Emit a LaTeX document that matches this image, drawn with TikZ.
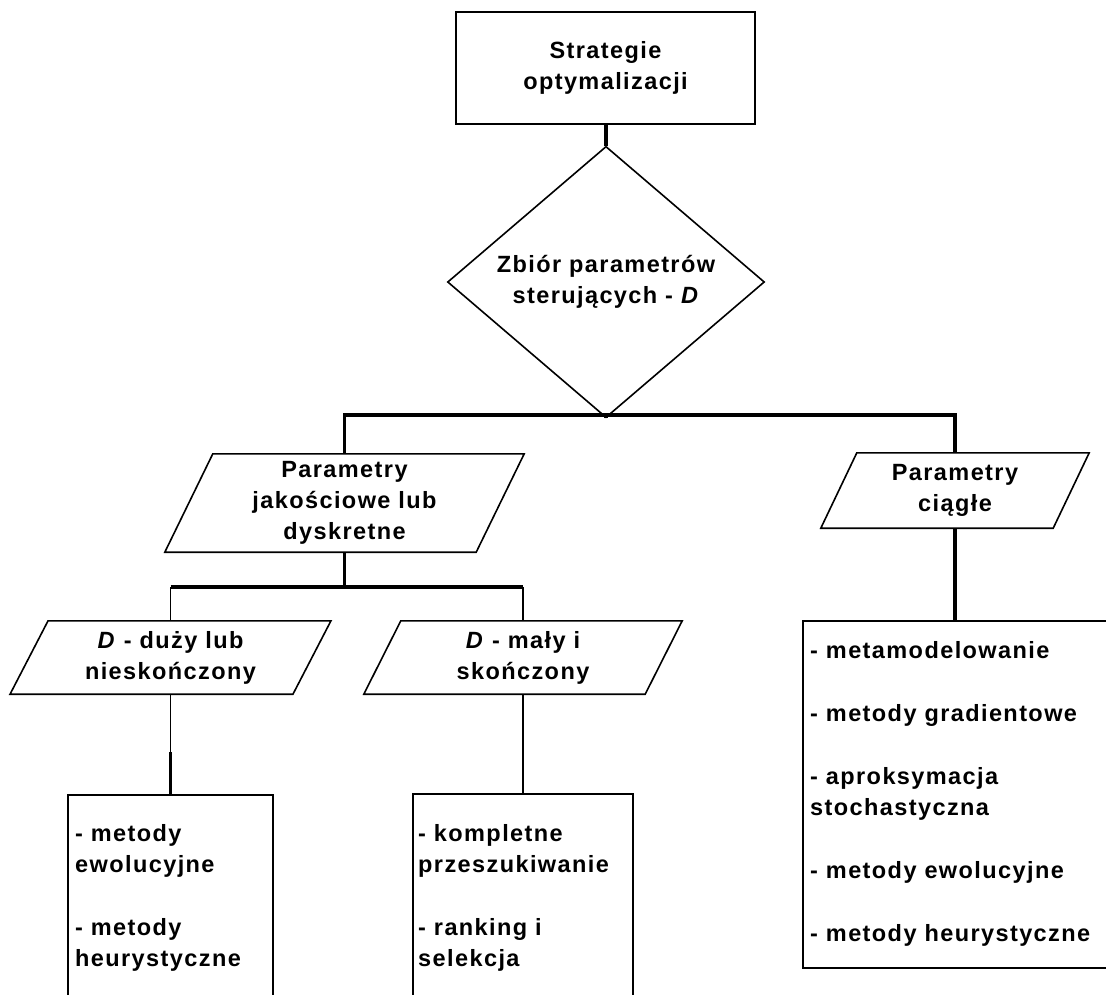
\documentclass[tikz,border=0pt]{standalone}
\usepackage{fontspec}
\usetikzlibrary{shapes.geometric,calc}
\newfontfamily\chartfont{Liberation Sans}[LetterSpace=6]

\tikzset{
  txt/.style={font=\chartfont\bfseries\fontsize{23.5}{31}\selectfont},
  outline/.style={draw=black, line width=1.6pt},
  heavy/.style={draw=black, line width=3.4pt},
  light/.style={draw=black, line width=1.6pt},
  rectbox/.style={outline, rectangle, inner sep=0pt},
  paraframe/.style={rectangle, inner sep=0pt, txt, align=center},
  listtext/.style={txt, align=left, anchor=north west, inner sep=0pt},
}

% parallelogram around a rectangular node: #1 node, #2 half of the horizontal slant
\newcommand\slantframe[2]{%
  \draw[outline] ($(#1.north west)+(#2,0)$) -- ($(#1.north east)+(#2,0)$)
    -- ($(#1.south east)-(#2,0)$) -- ($(#1.south west)-(#2,0)$) -- cycle;}

\begin{document}
\begin{tikzpicture}[x=1pt,y=-1pt]
\useasboundingbox (0,0) rectangle (1106,994);
\clip (0,0) rectangle (1106,994);
\fill[white] (0,0) rectangle (1106,994);

% root and decision
\node[rectbox, txt, align=center, minimum width=299pt, minimum height=112pt]
  (root) at (605.5,68) {Strategie\\optymalizacji};
\node[outline, diamond, inner sep=0pt, minimum width=317pt, minimum height=216pt,
  txt, align=center] (dec) at (606,282) {Zbiór parametrów\\sterujących - \textit{D}};

% first level of parameter kinds
\node[paraframe, minimum width=311pt, minimum height=98pt] (qual) at (344.5,503)
  {Parametry\\jakościowe lub\\dyskretne};
\slantframe{qual}{24}
\node[paraframe, minimum width=232pt, minimum height=75pt] (cont) at (955,490.5)
  {Parametry\\ciągłe};
\slantframe{cont}{18}

% split of the discrete case
\node[paraframe, minimum width=282.5pt, minimum height=73pt] (big) at (170.5,657.5)
  {\textit{D} - duży lub\\nieskończony};
\slantframe{big}{19}
\node[paraframe, minimum width=281pt, minimum height=73pt] (small) at (523,657.5)
  {\textit{D} - mały i\\skończony};
\slantframe{small}{18.5}

% method lists
\node[rectbox, minimum width=205pt, minimum height=260pt, anchor=north] (mbig) at (170.5,794) {};
\node[listtext] (tbig) at (75,824)
  {- metody\\ewolucyjne\\[32pt]- metody\\heurystyczne};
\node[rectbox, minimum width=220pt, minimum height=260pt, anchor=north] (msmall) at (523,793) {};
\node[listtext] (tsmall) at (418,824)
  {- kompletne\\przeszukiwanie\\[32pt]- ranking i\\selekcja};
\node[rectbox, minimum width=304pt, minimum height=347pt, anchor=north] (mcont) at (955,620) {};
\node[listtext] (tcont) at (810,641)
  {- metamodelowanie\\[32pt]- metody gradientowe\\[32pt]- aproksymacja\\stochastyczna\\[32pt]- metody ewolucyjne\\[32pt]- metody heurystyczne};

% connectors
\coordinate (bus) at (606,415);
\coordinate (split) at (344.5,587);
\coordinate (joint) at (170.5,752);
\draw[heavy] (root.south) -- (dec.south |- root.south) -- (dec.north);
\draw[heavy] (dec.south) -- (bus);
\draw[heavy] (qual.north) |- (bus) -| (cont.north);
\draw[heavy] (qual.south) -- (split);
\draw[heavy] (big.north |- split) -- (small.north |- split);
\draw[light] (big.north |- split) -- (big.north);
\draw[light] (small.north |- split) -- (small.north);
\draw[light] (big.south) -- (joint);
\draw[heavy] (joint) -- (mbig.north);
\draw[light] (small.south) -- (msmall.north);
\draw[heavy] (cont.south) -- (mcont.north);
\end{tikzpicture}
\end{document}
